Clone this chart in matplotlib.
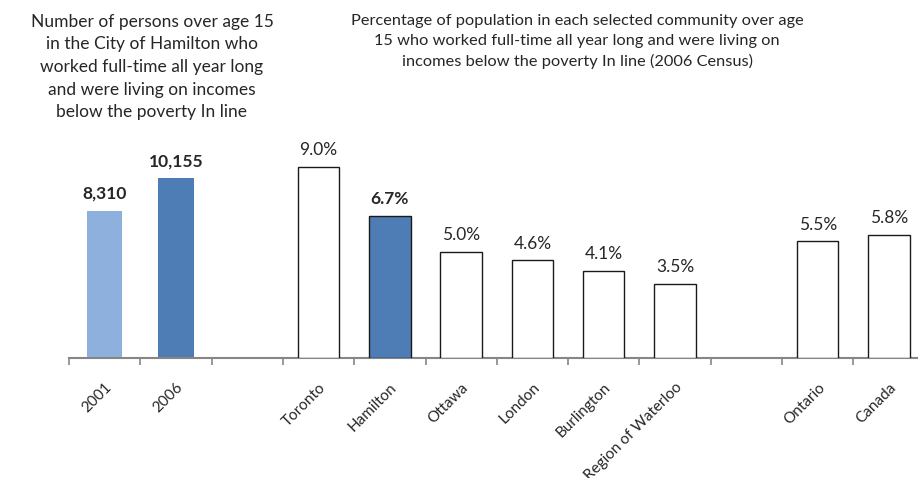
import numpy as np
import matplotlib
matplotlib.use('Agg')
import matplotlib.pyplot as plt

plt.rcParams['font.family'] = ['Lato', 'DejaVu Sans']

# Hamilton counts (left group)
years = ['2001', '2006']
persons = [8310, 10155]
persons_txt = ['8,310', '10,155']

# community percentages (right group)
places = ['Toronto', 'Hamilton', 'Ottawa', 'London', 'Burlington',
          'Region of Waterloo', 'Ontario', 'Canada']
pct = [9.0, 6.7, 5.0, 4.6, 4.1, 3.5, 5.5, 5.8]

# category slots along the shared x axis ('' = spacer)
slots = ['2001', '2006', '', 'Toronto', 'Hamilton', 'Ottawa', 'London',
         'Burlington', 'Region of Waterloo', '', 'Ontario', 'Canada']

light_blue = '#8eb0dc'
dark_blue = '#4e7db5'
txt = '#262626'
axis_gray = '#868686'

W, H = 918, 478
fig = plt.figure(figsize=(W / 100, H / 100), dpi=100)
x0, x1 = 69, 69 + 12 * 71.3
y_base, y_top = 358, 140
ax = fig.add_axes([x0 / W, 1 - y_base / H, (x1 - x0) / W, (y_base - y_top) / H])
ax2 = ax.twinx()

yr_x = [slots.index(y) for y in years]
pl_x = [slots.index(p) for p in places]

ax.bar(yr_x, persons, width=0.5, color=[light_blue, dark_blue], linewidth=0)
for x, v, s in zip(yr_x, persons, persons_txt):
    ax.text(x, v + 12300 * 0.04, s, ha='center', va='bottom',
            fontsize=12.5, fontweight='bold', color=txt)

cols = [dark_blue if p == 'Hamilton' else 'white' for p in places]
ax2.bar(pl_x, pct, width=0.58, color=cols, edgecolor='#1a1a1a', linewidth=1.0)
for x, v, p in zip(pl_x, pct, places):
    ax2.text(x, v + 10.27 * 0.04, f'{v:.1f}%', ha='center', va='bottom',
             fontsize=12.5, color=txt,
             fontweight='bold' if p == 'Hamilton' else 'normal')

ax.set_ylim(0, 12300)
ax2.set_ylim(0, 10.27)
ax.set_xlim(-0.5, 11.5)

for a in (ax, ax2):
    for s in a.spines.values():
        s.set_visible(False)
    a.set_yticks([])
ax.spines['bottom'].set_visible(True)
ax.spines['bottom'].set_color(axis_gray)
ax.spines['bottom'].set_linewidth(1.5)

# tick marks between categories, labels at the centres
ax.set_xticks(np.arange(-0.5, 12, 1))
ax.set_xticklabels([])
ax.tick_params(axis='x', which='major', length=5, width=1.2, color=axis_gray,
               direction='out')
ax.set_xticks(np.arange(len(slots)), minor=True)
ax.set_xticklabels(slots, minor=True, rotation=45, ha='right', va='top',
                   rotation_mode='anchor', fontsize=11, color=txt)
ax.tick_params(axis='x', which='minor', length=0, pad=16)

fig.text(152 / W, 1 - 14 / H,
         'Number of persons over age 15\nin the City of Hamilton who\n'
         'worked full-time all year long\nand were living on incomes\n'
         'below the poverty In line',
         ha='center', va='top', fontsize=12.5, color=txt, linespacing=1.5)
fig.text(577 / W, 1 - 14 / H,
         'Percentage of population in each selected community over age\n'
         '15 who worked full-time all year long and were living on\n'
         'incomes below the poverty In line (2006 Census)',
         ha='center', va='top', fontsize=11.8, color=txt, linespacing=1.5)

fig.savefig('out.png', dpi=100)
